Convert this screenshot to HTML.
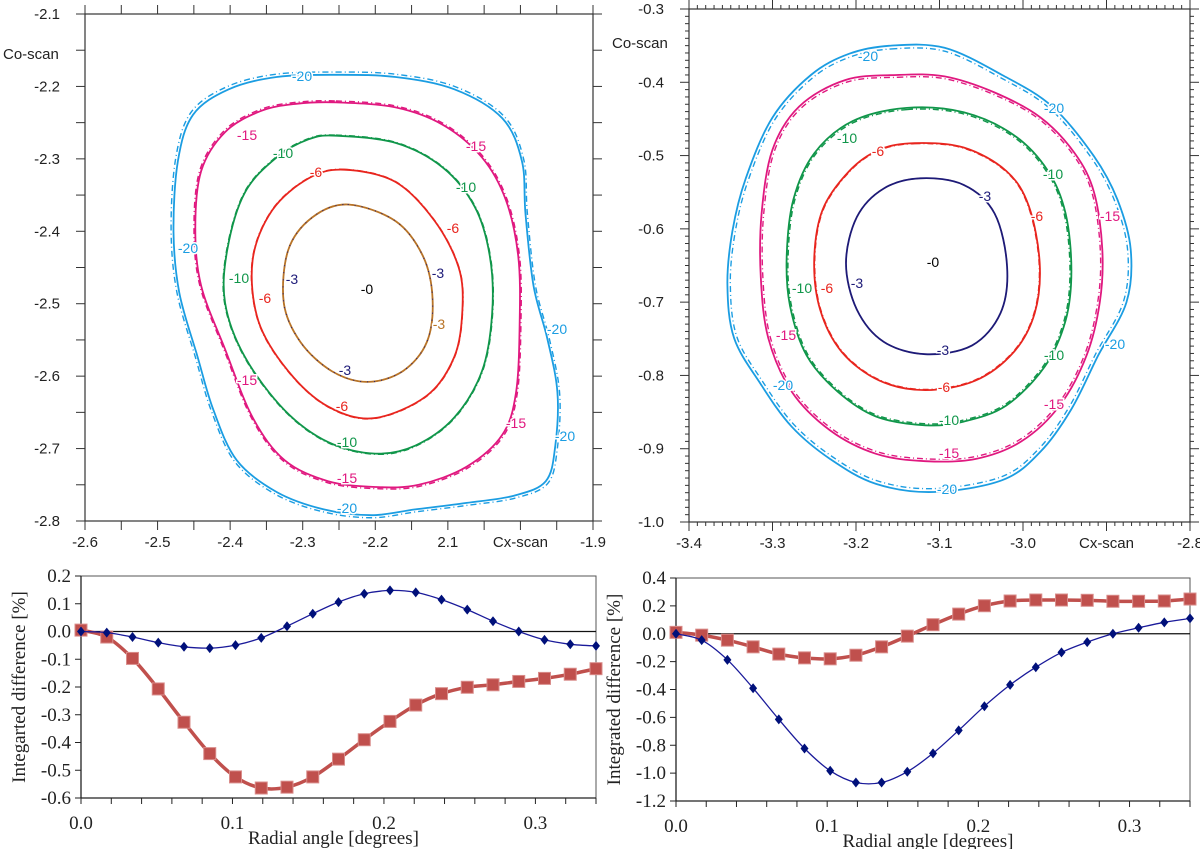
<!DOCTYPE html>
<html><head><meta charset="utf-8"><style>
html,body{margin:0;padding:0;background:#fff;}
svg{display:block;}
.sans{font-family:"Liberation Sans",sans-serif;}
.serif{font-family:"Liberation Serif",serif;}
</style></head><body>
<svg id="fig" width="1200" height="849" viewBox="0 0 1200 849" xmlns="http://www.w3.org/2000/svg">
<rect width="1200" height="849" fill="#fff"/>
</svg>
<script>
// ---------- DATA ----------
// Top-left contour plot levels (data coords: [cx, co])
const tlLevels = ["-3","-6","-10","-15","-20"];
const tl3 = [[-2.238,-2.363],[-2.172,-2.386],[-2.134,-2.435],[-2.121,-2.494],[-2.129,-2.553],[-2.162,-2.593],[-2.211,-2.608],[-2.260,-2.593],[-2.303,-2.553],[-2.326,-2.499],[-2.320,-2.426],[-2.287,-2.381]];
const tl6 = [[-2.243,-2.315],[-2.172,-2.332],[-2.118,-2.386],[-2.085,-2.450],[-2.080,-2.509],[-2.091,-2.573],[-2.129,-2.627],[-2.202,-2.658],[-2.265,-2.642],[-2.320,-2.593],[-2.361,-2.524],[-2.369,-2.440],[-2.342,-2.371],[-2.292,-2.327]];
const tl10 = [[-2.254,-2.268],[-2.172,-2.278],[-2.107,-2.312],[-2.063,-2.366],[-2.042,-2.435],[-2.039,-2.514],[-2.053,-2.593],[-2.091,-2.657],[-2.145,-2.696],[-2.200,-2.707],[-2.265,-2.691],[-2.325,-2.647],[-2.380,-2.573],[-2.407,-2.499],[-2.404,-2.426],[-2.380,-2.347],[-2.336,-2.298],[-2.292,-2.273]];
const tl15 = [[-2.254,-2.222],[-2.172,-2.229],[-2.107,-2.253],[-2.053,-2.298],[-2.020,-2.357],[-2.003,-2.435],[-2.001,-2.524],[-2.006,-2.622],[-2.025,-2.681],[-2.074,-2.725],[-2.140,-2.750],[-2.200,-2.753],[-2.265,-2.745],[-2.325,-2.716],[-2.369,-2.657],[-2.407,-2.563],[-2.440,-2.475],[-2.448,-2.396],[-2.440,-2.317],[-2.407,-2.263],[-2.358,-2.234],[-2.309,-2.224]];
const tl20 = [[-2.254,-2.184],[-2.172,-2.187],[-2.091,-2.204],[-2.025,-2.244],[-1.998,-2.303],[-1.993,-2.376],[-1.982,-2.475],[-1.963,-2.548],[-1.949,-2.622],[-1.952,-2.696],[-1.965,-2.745],[-2.009,-2.765],[-2.074,-2.775],[-2.145,-2.784],[-2.205,-2.792],[-2.271,-2.784],[-2.336,-2.760],[-2.391,-2.716],[-2.423,-2.647],[-2.445,-2.573],[-2.470,-2.485],[-2.478,-2.401],[-2.472,-2.303],[-2.451,-2.239],[-2.402,-2.204],[-2.336,-2.187]];
// Top-right contour plot
const tr3 = [[-3.123,-0.531],[-3.071,-0.540],[-3.034,-0.579],[-3.019,-0.652],[-3.027,-0.715],[-3.061,-0.759],[-3.117,-0.771],[-3.167,-0.754],[-3.199,-0.710],[-3.212,-0.647],[-3.199,-0.584],[-3.167,-0.545]];
const tr6 = [[-3.130,-0.483],[-3.071,-0.489],[-3.020,-0.521],[-2.993,-0.569],[-2.980,-0.647],[-2.986,-0.715],[-3.011,-0.768],[-3.057,-0.807],[-3.117,-0.820],[-3.172,-0.807],[-3.217,-0.768],[-3.243,-0.710],[-3.250,-0.642],[-3.240,-0.574],[-3.208,-0.521],[-3.172,-0.492]];
const tr10 = [[-3.139,-0.435],[-3.071,-0.441],[-3.011,-0.472],[-2.970,-0.521],[-2.949,-0.579],[-2.942,-0.657],[-2.949,-0.725],[-2.974,-0.788],[-3.020,-0.841],[-3.071,-0.863],[-3.117,-0.868],[-3.176,-0.856],[-3.222,-0.822],[-3.259,-0.773],[-3.279,-0.705],[-3.283,-0.637],[-3.275,-0.560],[-3.250,-0.497],[-3.204,-0.453]];
const tr15 = [[-3.151,-0.390],[-3.094,-0.392],[-3.034,-0.414],[-2.979,-0.448],[-2.938,-0.497],[-2.915,-0.550],[-2.905,-0.628],[-2.908,-0.700],[-2.924,-0.773],[-2.956,-0.841],[-3.002,-0.890],[-3.057,-0.914],[-3.117,-0.917],[-3.176,-0.907],[-3.231,-0.875],[-3.277,-0.822],[-3.305,-0.749],[-3.314,-0.666],[-3.313,-0.579],[-3.300,-0.492],[-3.268,-0.433],[-3.213,-0.397]];
const tr20 = [[-3.158,-0.350],[-3.094,-0.353],[-3.025,-0.390],[-2.965,-0.433],[-2.915,-0.501],[-2.887,-0.560],[-2.871,-0.628],[-2.876,-0.700],[-2.910,-0.773],[-2.942,-0.846],[-2.979,-0.904],[-3.025,-0.943],[-3.107,-0.959],[-3.176,-0.948],[-3.231,-0.914],[-3.277,-0.870],[-3.314,-0.812],[-3.346,-0.749],[-3.354,-0.676],[-3.348,-0.603],[-3.332,-0.531],[-3.300,-0.448],[-3.254,-0.390],[-3.208,-0.361]];
// Bottom charts
const radial = [0,0.017,0.034,0.051,0.068,0.085,0.102,0.119,0.136,0.153,0.17,0.187,0.204,0.221,0.238,0.255,0.272,0.289,0.306,0.323,0.34];
const blBlue = [0.0,-0.004,-0.02,-0.04,-0.055,-0.06,-0.049,-0.023,0.019,0.064,0.106,0.136,0.148,0.141,0.115,0.079,0.037,0.0,-0.03,-0.046,-0.052];
const blRed = [0.005,-0.02,-0.097,-0.207,-0.327,-0.44,-0.524,-0.564,-0.561,-0.524,-0.46,-0.39,-0.324,-0.265,-0.224,-0.201,-0.192,-0.18,-0.169,-0.154,-0.134];
const brRed = [0.01,-0.01,-0.046,-0.094,-0.146,-0.173,-0.18,-0.154,-0.094,-0.017,0.065,0.141,0.201,0.235,0.242,0.242,0.24,0.233,0.233,0.235,0.249];
const brBlue = [0.0,-0.046,-0.187,-0.391,-0.614,-0.823,-0.983,-1.067,-1.067,-0.99,-0.858,-0.693,-0.52,-0.367,-0.24,-0.134,-0.06,0.0,0.043,0.082,0.11];
const blYTicks = ["0.2","0.1","0.0","-0.1","-0.2","-0.3","-0.4","-0.5","-0.6"];
const brYTicks = ["0.4","0.2","0.0","-0.2","-0.4","-0.6","-0.8","-1.0","-1.2"];
const bXTicks = ["0.0","0.1","0.2","0.3"];
const tlXTicks = ["-2.6","-2.5","-2.4","-2.3","-2.2","2.1","Cx-scan","-1.9"];
const tlYTicks = ["-2.1","-2.2","-2.3","-2.4","-2.5","-2.6","-2.7","-2.8"];
const trXTicks = ["-3.4","-3.3","-3.2","-3.1","-3.0","-2.9","-2.8"];
const trXLabels = ["-3.4","-3.3","-3.2","-3.1","-3.0","Cx-scan","-2.8"];
const trYTicks = ["-0.3","-0.4","-0.5","-0.6","-0.7","-0.8","-0.9","-1.0"];

// ---------- HELPERS ----------
const svg = document.getElementById('fig');
const NS = 'http://www.w3.org/2000/svg';
function mk(tag, attrs, parent){
  const e = document.createElementNS(NS, tag);
  for (const k in attrs) e.setAttribute(k, attrs[k]);
  (parent||svg).appendChild(e);
  return e;
}
function lin(d0,d1,p0,p1){ return v => p0 + (v-d0)/(d1-d0)*(p1-p0); }
function smooth(pts, closed){
  const n = pts.length; let d = 'M'+pts[0][0].toFixed(1)+','+pts[0][1].toFixed(1);
  const last = closed ? n : n-1;
  for (let i=0;i<last;i++){
    const p0 = pts[closed ? (i-1+n)%n : Math.max(i-1,0)];
    const p1 = pts[i], p2 = pts[closed ? (i+1)%n : i+1];
    const p3 = pts[closed ? (i+2)%n : Math.min(i+2,n-1)];
    const c1 = [p1[0]+(p2[0]-p0[0])/6, p1[1]+(p2[1]-p0[1])/6];
    const c2 = [p2[0]-(p3[0]-p1[0])/6, p2[1]-(p3[1]-p1[1])/6];
    d += 'C'+c1[0].toFixed(1)+','+c1[1].toFixed(1)+' '+c2[0].toFixed(1)+','+c2[1].toFixed(1)+' '+p2[0].toFixed(1)+','+p2[1].toFixed(1);
  }
  return d + (closed ? 'Z' : '');
}

// ---------- CONTOUR PANELS ----------
const COL = {"-3":"#b87428","-6":"#e8251e","-10":"#10964a","-15":"#e0187f","-20":"#1b9de2"};
function contourPanel(g, px0, px1, dx0, dx1, py0, py1, dy0, dy1, xt, xl, yt, minorStep, majorLen, minorLen, sets, labels, innerNavy){
  const X = lin(dx0,dx1,px0,px1), Y = lin(dy0,dy1,py0,py1);
  const frame = mk('rect',{x:px0,y:py0,width:px1-px0,height:py1-py0,fill:'none',stroke:'#333','stroke-width':1.2},g);
  
  
  // ticks
  const nx = Math.round((dx1-dx0)/minorStep), ny = Math.round((dy0-dy1)/minorStep);
  const per = Math.round(0.1/minorStep);
  for (let i=0;i<=nx;i++){
    const x = px0 + i*(px1-px0)/nx, L = (i%per===0)?majorLen:minorLen;
    mk('line',{x1:x,y1:py0,x2:x,y2:py0-L,stroke:'#333','stroke-width':1},g);
    mk('line',{x1:x,y1:py1,x2:x,y2:py1+L,stroke:'#333','stroke-width':1},g);
  }
  for (let i=0;i<=ny;i++){
    const y = py0 + i*(py1-py0)/ny, L = (i%per===0)?majorLen:minorLen;
    mk('line',{x1:px0,y1:y,x2:px0-L,y2:y,stroke:'#333','stroke-width':1},g);
    mk('line',{x1:px1,y1:y,x2:px1+L,y2:y,stroke:'#333','stroke-width':1},g);
  }
  xt.forEach((t,i)=>{
    const tx = mk('text',{x:X(parseFloat(t)),y:py1+26,'text-anchor':'middle','font-size':15,fill:'#222',class:'sans'},g);
    tx.textContent = xl[i];
    
    
  });
  yt.forEach(t=>{
    const tx = mk('text',{x:px0-25,y:Y(parseFloat(t))+5,'text-anchor':'end','font-size':15,fill:'#222',class:'sans'},g);
    tx.textContent = t;
    
    
  });
  sets.forEach(s=>{
    const pts = s.data.map(p=>[X(p[0]),Y(p[1])]);
    const d = smooth(pts,true);
    const cx = pts.reduce((a,p)=>a+p[0],0)/pts.length, cy = pts.reduce((a,p)=>a+p[1],0)/pts.length;
    const dash = mk('path',{d:d,fill:'none',stroke:COL[s.level],'stroke-width':1.4,'stroke-dasharray':'6,3,1,3',transform:'translate('+cx+','+cy+') scale('+s.k+') translate('+(-cx)+','+(-cy)+')'},g);
    
    
    const col = (s.level==='-3' && innerNavy) ? '#1d1a78' : COL[s.level];
    const p = mk('path',{d:d,fill:'none',stroke:col,'stroke-width':1.8},g);
    
    
    if (s.level==='-3' && !innerNavy){
      const q = mk('path',{d:d,fill:'none',stroke:'#1d1a78','stroke-width':1,'stroke-dasharray':'1,6'},g);
      
      
    }
  });
  labels.forEach(l=>{
    const c = l[2]==='-0' ? '#000' : (l[3]||COL[l[2]]);
    const t = mk('text',{x:l[0],y:l[1]+5,'text-anchor':'middle','font-size':14,fill:c,stroke:'#fff','stroke-width':3,'paint-order':'stroke',class:'sans'},g);
    t.textContent = l[2];
    
    
  });
}

const gTL = mk('g',{});  
const NV = '#1d1a78';
contourPanel(gTL, 85,593,-2.6,-1.9, 14,521,-2.1,-2.8,
  ["-2.6","-2.5","-2.4","-2.3","-2.2","-2.1","-2.0","-1.9"], tlXTicks, tlYTicks, 0.05, 9, 9,
  [{level:"-20",data:tl20,k:1.012},{level:"-15",data:tl15,k:1.008},{level:"-10",data:tl10,k:1.004},{level:"-6",data:tl6,k:1.003},{level:"-3",data:tl3,k:1.0}],
  [[302,76,"-20"],[247,135,"-15"],[476,146,"-15"],[283,153,"-10"],[466,187,"-10"],[316,172,"-6"],[453,228,"-6"],[188,248,"-20"],[239,278,"-10"],[292,279,"-3",NV],[438,273,"-3",NV],[367,289,"-0"],[265,298,"-6"],[439,324,"-3"],[557,329,"-20"],[345,370,"-3",NV],[247,380,"-15"],[342,406,"-6"],[516,423,"-15"],[565,436,"-20"],[347,442,"-10"],[347,478,"-15"],[347,508,"-20"]], false);
let cs = mk('text',{x:3,y:59,'font-size':15,fill:'#222',class:'sans'},gTL); cs.textContent='Co-scan';
 

const gTR = mk('g',{});  
contourPanel(gTR, 689,1190,-3.4,-2.8, 9,522,-0.3,-1.0,
  trXTicks, trXLabels, trYTicks, 0.01, 9, 4,
  [{level:"-20",data:tr20,k:0.985},{level:"-15",data:tr15,k:0.988},{level:"-10",data:tr10,k:0.99},{level:"-6",data:tr6,k:0.995},{level:"-3",data:tr3,k:1.0}],
  [[868,56,"-20"],[1054,108,"-20"],[847,138,"-10"],[878,151,"-6"],[1053,174,"-10"],[985,196,"-3",NV],[1037,216,"-6"],[1110,216,"-15"],[933,262,"-0"],[857,283,"-3",NV],[802,288,"-10"],[827,288,"-6"],[786,335,"-15"],[1115,344,"-20"],[1054,355,"-10"],[943,350,"-3",NV],[783,385,"-20"],[944,387,"-6"],[1054,404,"-15"],[949,420,"-10"],[949,453,"-15"],[947,489,"-20"]], true);
cs = mk('text',{x:612,y:48,'font-size':15,fill:'#222',class:'sans'},gTR); cs.textContent='Co-scan';
 

// ---------- LINE CHARTS ----------
function lineChart(g, px0,px1, py0,py1, dy0,dy1, yTicks, blue, red, title){
  const X = lin(0,0.34,px0,px1), Y = lin(dy0,dy1,py0,py1);
  const fr = mk('rect',{x:px0,y:py0,width:px1-px0,height:py1-py0,fill:'none',stroke:'#555','stroke-width':1},g);
   
  const z = mk('line',{x1:px0,y1:Y(0),x2:px1,y2:Y(0),stroke:'#111','stroke-width':1.2},g);
   
  mk('line',{x1:px0,y1:py0,x2:px0,y2:py1,stroke:'#222','stroke-width':1.3},g);
  mk('line',{x1:px0,y1:py1,x2:px1,y2:py1,stroke:'#222','stroke-width':1.3},g);
  for (let v=0; v<=0.3401; v+=0.02){ mk('line',{x1:X(v),y1:py1,x2:X(v),y2:py1+6,stroke:'#222','stroke-width':1},g); }
  bXTicks.forEach(t=>{
    const tx = mk('text',{x:X(parseFloat(t)),y:py1+31,'text-anchor':'middle','font-size':19,fill:'#222',class:'serif'},g);
    tx.textContent=t;  
  });
  yTicks.forEach(t=>{
    const y = Y(parseFloat(t));
    mk('line',{x1:px0-6,y1:y,x2:px0,y2:y,stroke:'#222','stroke-width':1},g);
    const tx = mk('text',{x:px0-10,y:y+6,'text-anchor':'end','font-size':19,fill:'#222',class:'serif'},g);
    tx.textContent=t;  
  });
  const xt = mk('text',{x:(px0+px1)/2-5,y:py1+46,'text-anchor':'middle','font-size':19,fill:'#222',class:'serif'},g);
  xt.textContent='Radial angle [degrees]';  
  const yx = px0-56, yy=(py0+py1)/2;
  const yt = mk('text',{x:yx,y:yy,'text-anchor':'middle','font-size':19,fill:'#222',class:'serif',transform:'rotate(-90 '+yx+' '+yy+')'},g);
  yt.textContent=title;  
  // red series
  const rp = radial.map((x,i)=>[X(x),Y(red[i])]);
  const rl = mk('path',{d:smooth(rp,false),fill:'none',stroke:'#c0504d','stroke-width':3.5},g);
   
  rp.forEach(p=>{
    const m = mk('rect',{x:p[0]-6,y:p[1]-6,width:12,height:12,fill:'#c0504d',stroke:'#d98c8a','stroke-width':1},g);
     
  });
  const bp = radial.map((x,i)=>[X(x),Y(blue[i])]);
  const bl = mk('path',{d:smooth(bp,false),fill:'none',stroke:'#1a1a9a','stroke-width':1.3},g);
   
  bp.forEach(p=>{
    const m = mk('polygon',{points:(p[0])+','+(p[1]-5)+' '+(p[0]+4)+','+p[1]+' '+p[0]+','+(p[1]+5)+' '+(p[0]-4)+','+p[1],fill:'#00107a'},g);
     
  });
}
const gBL = mk('g',{});  
lineChart(gBL, 81,596, 576,798, 0.2,-0.6, blYTicks, blBlue, blRed, 'Integarted difference [%]');
const gBR = mk('g',{});  
lineChart(gBR, 676,1190, 578,801, 0.4,-1.2, brYTicks, brBlue, brRed, 'Integrated difference [%]');
</script>
</body></html>
